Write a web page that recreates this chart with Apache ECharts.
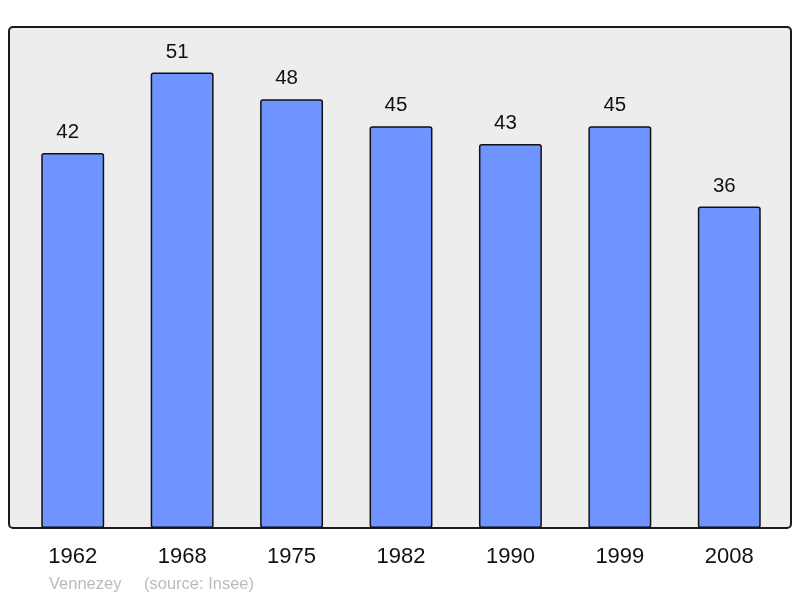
<!DOCTYPE html>
<html><head><meta charset="utf-8">
<script src="https://cdn.jsdelivr.net/npm/echarts@6/dist/echarts.min.js"></script>
<style>html,body{margin:0;padding:0;background:#fff}#c{width:800px;height:598px}</style>
</head><body><div id="c"></div>
<script>
const years = ['1962','1968','1975','1982','1990','1999','2008'];
const population = [42, 51, 48, 45, 43, 45, 36];
const placeName = 'Vennezey';
const sourceText = '(source: Insee)';

const chart = echarts.init(document.getElementById('c'), null, {renderer:'canvas'});
chart.setOption({
  animation: false,
  backgroundColor: '#ffffff',
  graphic: [
    {type:'rect', z:-10, shape:{x:9, y:27, width:782, height:501, r:4},
     style:{fill:'#ededed', stroke:'#1a1a1a', lineWidth:2}},
    {type:'text', left:49, top:576, style:{text:placeName, fill:'#bbbbbb', font:'16.5px "Liberation Sans", Arial, sans-serif'}},
    {type:'text', left:144, top:576, style:{text:sourceText, fill:'#bbbbbb', font:'16.5px "Liberation Sans", Arial, sans-serif'}}
  ],
  grid: {left:18, right:16, top:27, bottom:70, containLabel:false},
  xAxis: {
    type:'category', data: years,
    axisLine:{show:false}, axisTick:{show:false},
    axisLabel:{color:'#111', fontSize:22, fontFamily:'Liberation Sans, Arial, sans-serif', margin:18}
  },
  yAxis: {type:'value', min:0, max:56.1, show:false, splitLine:{show:false}},
  series: [{
    type:'bar', data: population, barWidth:'57.5%',
    itemStyle:{color:'#7094ff', borderColor:'#111', borderWidth:1.5, borderRadius:2},
    label:{show:true, position:'top', distance:10, offset:[-5, 0], color:'#111', fontSize:20.5, fontFamily:'Liberation Sans, Arial, sans-serif'}
  }]
});
</script></body></html>
